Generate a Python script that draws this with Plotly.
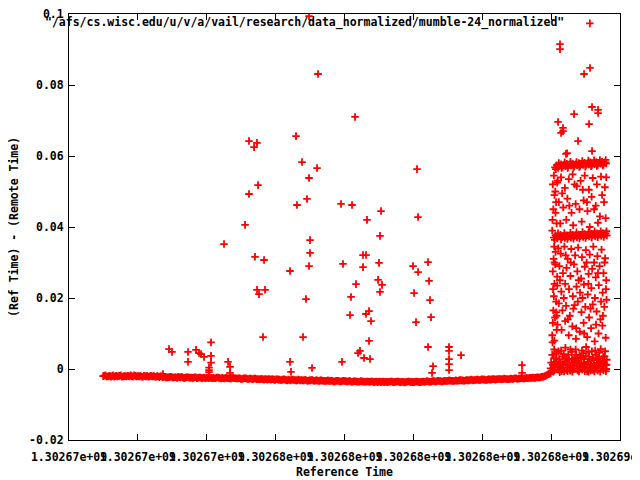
import plotly.graph_objects as go

T0 = 1302670000  # epoch base of the time axis (s)

# ---- dense baseline (offset s, ref-remote s) ----
baseline_t = [
    1240, 1320, 1400, 1480, 1560, 1640, 1720, 1800, 1880, 1960,
    2040, 2120, 2200, 2280, 2360, 2440, 2520, 2600, 2680, 2760,
    2840, 2920, 3000, 3080, 3160, 3240, 3320, 3400, 3480, 3560,
    3640, 3720, 3800, 3880, 3960, 4040, 4120, 4200, 4280, 4360,
    4440, 4520, 4600, 4680, 4760, 4840, 4920, 5000, 5080, 5160,
    5240, 5320, 5400, 5480, 5560, 5640, 5720, 5800, 5880, 5960,
    6040, 6120, 6200, 6280, 6360, 6440, 6520, 6600, 6680, 6760,
    6840, 6920, 7000, 7080, 7160, 7240, 7320, 7400, 7480, 7560,
    7640, 7720, 7800, 7880, 7960, 8040, 8120, 8200, 8280, 8360,
    8440, 8520, 8600, 8680, 8760, 8840, 8920, 9000, 9080, 9160,
    9240, 9320, 9400, 9480, 9560, 9640, 9720, 9800, 9880, 9960,
    10040, 10120, 10200, 10280, 10360, 10440, 10520, 10600, 10680, 10760,
    10840, 10920, 11000, 11080, 11160, 11240, 11320, 11400, 11480, 11560,
    11640, 11720, 11800, 11880, 11960, 12040, 12120, 12200, 12280, 12360,
    12440, 12520, 12600, 12680, 12760, 12840, 12920, 13000, 13080, 13160,
    13240, 13320, 13400, 13480, 13560, 13640, 13720, 13800, 13880, 13960,
    14040, 14120, 14200, 14280, 14360, 14440, 14520, 14600, 14680, 14760,
    14840, 14920, 15000, 15080, 15160, 15240, 15320, 15400, 15480, 15560,
    15640, 15720, 15800, 15880, 15960, 16040, 16120, 16200, 16280, 16360,
    16440, 16520, 16600, 16680, 16760, 16840, 16920, 17000, 17080, 17160,
    17240, 17320, 17400, 17480,
]
baseline_dy = [
    -0.0020, -0.0018, -0.0021, -0.0019, -0.0020, -0.0022, -0.0019, -0.0020, -0.0018, -0.0021,
    -0.0020, -0.0019, -0.0021, -0.0020, -0.0018, -0.0021, -0.0020, -0.0019, -0.0022, -0.0020,
    -0.0019, -0.0021, -0.0020, -0.0020, -0.0022, -0.0021, -0.0020, -0.0023, -0.0022, -0.0024,
    -0.0023, -0.0022, -0.0024, -0.0023, -0.0022, -0.0024, -0.0023, -0.0025, -0.0023, -0.0024,
    -0.0024, -0.0025, -0.0023, -0.0025, -0.0024, -0.0026, -0.0025, -0.0024, -0.0026, -0.0025,
    -0.0025, -0.0026, -0.0024, -0.0026, -0.0025, -0.0027, -0.0025, -0.0026, -0.0027, -0.0025,
    -0.0026, -0.0027, -0.0026, -0.0028, -0.0026, -0.0027, -0.0028, -0.0027, -0.0029, -0.0027,
    -0.0028, -0.0029, -0.0028, -0.0030, -0.0029, -0.0028, -0.0030, -0.0029, -0.0031, -0.0029,
    -0.0030, -0.0031, -0.0029, -0.0031, -0.0030, -0.0032, -0.0030, -0.0031, -0.0032, -0.0031,
    -0.0031, -0.0032, -0.0031, -0.0033, -0.0032, -0.0031, -0.0033, -0.0032, -0.0034, -0.0032,
    -0.0033, -0.0034, -0.0032, -0.0034, -0.0033, -0.0035, -0.0033, -0.0034, -0.0035, -0.0033,
    -0.0034, -0.0035, -0.0034, -0.0036, -0.0034, -0.0035, -0.0036, -0.0034, -0.0035, -0.0036,
    -0.0035, -0.0036, -0.0035, -0.0037, -0.0035, -0.0036, -0.0037, -0.0035, -0.0036, -0.0037,
    -0.0036, -0.0035, -0.0037, -0.0036, -0.0035, -0.0037, -0.0036, -0.0038, -0.0036, -0.0035,
    -0.0036, -0.0037, -0.0035, -0.0036, -0.0037, -0.0035, -0.0036, -0.0034, -0.0036, -0.0035,
    -0.0034, -0.0035, -0.0033, -0.0034, -0.0035, -0.0033, -0.0034, -0.0032, -0.0033, -0.0034,
    -0.0032, -0.0033, -0.0031, -0.0032, -0.0033, -0.0031, -0.0032, -0.0030, -0.0032, -0.0031,
    -0.0030, -0.0031, -0.0029, -0.0030, -0.0031, -0.0029, -0.0030, -0.0028, -0.0030, -0.0029,
    -0.0028, -0.0029, -0.0027, -0.0028, -0.0029, -0.0027, -0.0028, -0.0026, -0.0028, -0.0027,
    -0.0026, -0.0027, -0.0025, -0.0026, -0.0025, -0.0024, -0.0025, -0.0023, -0.0024, -0.0022,
    -0.0021, -0.0018, -0.0015, -0.0012,
]
# interleaved baseline samples (the run is sampled densely)
baseline2_t = [
    1280, 1360, 1440, 1520, 1600, 1680, 1760, 1840, 1920, 2000,
    2080, 2160, 2240, 2320, 2400, 2480, 2560, 2640, 2720, 2800,
    2880, 2960, 3040, 3120, 3200, 3280, 3360, 3440, 3520, 3600,
    3680, 3760, 3840, 3920, 4000, 4080, 4160, 4240, 4320, 4400,
    4480, 4560, 4640, 4720, 4800, 4880, 4960, 5040, 5120, 5200,
    5280, 5360, 5440, 5520, 5600, 5680, 5760, 5840, 5920, 6000,
    6080, 6160, 6240, 6320, 6400, 6480, 6560, 6640, 6720, 6800,
    6880, 6960, 7040, 7120, 7200, 7280, 7360, 7440, 7520, 7600,
    7680, 7760, 7840, 7920, 8000, 8080, 8160, 8240, 8320, 8400,
    8480, 8560, 8640, 8720, 8800, 8880, 8960, 9040, 9120, 9200,
    9280, 9360, 9440, 9520, 9600, 9680, 9760, 9840, 9920, 10000,
    10080, 10160, 10240, 10320, 10400, 10480, 10560, 10640, 10720, 10800,
    10880, 10960, 11040, 11120, 11200, 11280, 11360, 11440, 11520, 11600,
    11680, 11760, 11840, 11920, 12000, 12080, 12160, 12240, 12320, 12400,
    12480, 12560, 12640, 12720, 12800, 12880, 12960, 13040, 13120, 13200,
    13280, 13360, 13440, 13520, 13600, 13680, 13760, 13840, 13920, 14000,
    14080, 14160, 14240, 14320, 14400, 14480, 14560, 14640, 14720, 14800,
    14880, 14960, 15040, 15120, 15200, 15280, 15360, 15440, 15520, 15600,
    15680, 15760, 15840, 15920, 16000, 16080, 16160, 16240, 16320, 16400,
    16480, 16560, 16640, 16720, 16800, 16880, 16960, 17040, 17120, 17200,
    17280, 17360, 17440,
]
baseline2_dy = [
    -0.0019, -0.0021, -0.0020, -0.0022, -0.0018, -0.0020, -0.0021, -0.0019, -0.0022, -0.0020,
    -0.0021, -0.0020, -0.0018, -0.0022, -0.0019, -0.0020, -0.0021, -0.0022, -0.0019, -0.0021,
    -0.0022, -0.0019, -0.0021, -0.0022, -0.0020, -0.0023, -0.0021, -0.0022, -0.0024, -0.0023,
    -0.0022, -0.0024, -0.0023, -0.0025, -0.0023, -0.0022, -0.0025, -0.0024, -0.0023, -0.0025,
    -0.0025, -0.0023, -0.0026, -0.0024, -0.0025, -0.0024, -0.0026, -0.0025, -0.0024, -0.0026,
    -0.0026, -0.0024, -0.0025, -0.0027, -0.0026, -0.0025, -0.0026, -0.0027, -0.0025, -0.0026,
    -0.0027, -0.0026, -0.0028, -0.0027, -0.0026, -0.0028, -0.0027, -0.0028, -0.0027, -0.0029,
    -0.0029, -0.0028, -0.0029, -0.0028, -0.0030, -0.0029, -0.0029, -0.0030, -0.0029, -0.0030,
    -0.0031, -0.0030, -0.0030, -0.0032, -0.0031, -0.0030, -0.0031, -0.0032, -0.0030, -0.0032,
    -0.0032, -0.0031, -0.0033, -0.0032, -0.0031, -0.0033, -0.0032, -0.0033, -0.0032, -0.0033,
    -0.0034, -0.0033, -0.0034, -0.0033, -0.0035, -0.0034, -0.0033, -0.0035, -0.0034, -0.0034,
    -0.0035, -0.0034, -0.0036, -0.0035, -0.0035, -0.0036, -0.0035, -0.0035, -0.0036, -0.0035,
    -0.0036, -0.0035, -0.0036, -0.0036, -0.0037, -0.0035, -0.0036, -0.0037, -0.0036, -0.0036,
    -0.0035, -0.0037, -0.0036, -0.0035, -0.0037, -0.0036, -0.0037, -0.0036, -0.0035, -0.0037,
    -0.0037, -0.0036, -0.0036, -0.0037, -0.0036, -0.0036, -0.0035, -0.0035, -0.0036, -0.0034,
    -0.0035, -0.0034, -0.0034, -0.0035, -0.0034, -0.0034, -0.0033, -0.0033, -0.0034, -0.0033,
    -0.0033, -0.0032, -0.0032, -0.0033, -0.0032, -0.0032, -0.0031, -0.0031, -0.0031, -0.0030,
    -0.0031, -0.0030, -0.0030, -0.0031, -0.0030, -0.0030, -0.0029, -0.0029, -0.0029, -0.0028,
    -0.0029, -0.0028, -0.0028, -0.0029, -0.0028, -0.0028, -0.0027, -0.0027, -0.0027, -0.0026,
    -0.0027, -0.0026, -0.0026, -0.0025, -0.0025, -0.0025, -0.0024, -0.0024, -0.0023, -0.0022,
    -0.0020, -0.0017, -0.0014,
]

# ---- scattered outliers in the middle of the run (offset s, value) ----
middle_points = [
    (3630, 0.0056), (3739, 0.0048), (4320, 0.0048), (4320, 0.0020), (4610, 0.0054),
    (4719, 0.0045), (4792, 0.0042), (4900, 0.0034), (5155, 0.0075), (5155, 0.0037),
    (5155, 0.0018), (5082, 0.0004), (5082, -0.0003), (5082, -0.0009), (5772, 0.0020),
    (5844, 0.0006), (5844, -0.0011), (3412, -0.0014),
    (6534, 0.0642), (6824, 0.0637), (6716, 0.0625), (8240, 0.0656), (8458, 0.0583),
    (9002, 0.0566), (8712, 0.0538), (6861, 0.0518), (6534, 0.0493), (8639, 0.0479),
    (8276, 0.0462), (6389, 0.0406), (5627, 0.0352), (8748, 0.0363), (8748, 0.0327),
    (8712, 0.0290), (6752, 0.0316), (7079, 0.0307), (8022, 0.0276), (6824, 0.0223),
    (7115, 0.0223), (6897, 0.0211), (8603, 0.0197), (7042, 0.0090), (8494, 0.0090),
    (8022, 0.0020), (8058, -0.0008), (8821, 0.0003), (9910, 0.0020), (10491, 0.0045),
    (8712, 0.0994), (9039, 0.0831), (10382, 0.0710), (12632, 0.0563), (9874, 0.0465),
    (10273, 0.0462), (11326, 0.0445), (10817, 0.0420), (12669, 0.0428), (11289, 0.0375),
    (10672, 0.0321), (10781, 0.0321), (9946, 0.0296), (10672, 0.0287), (11253, 0.0299),
    (12487, 0.0290), (13032, 0.0301), (12669, 0.0273), (10418, 0.0239), (11217, 0.0251),
    (11362, 0.0237), (11289, 0.0217), (13068, 0.0248), (12524, 0.0214), (10237, 0.0203),
    (13104, 0.0194), (10200, 0.0152), (10781, 0.0155), (10890, 0.0163), (10963, 0.0135),
    (12596, 0.0132), (13141, 0.0146), (10890, 0.0079), (10563, 0.0051), (10709, 0.0031),
    (10926, 0.0028), (13032, 0.0062), (13794, 0.0062), (13794, 0.0051), (13794, 0.0028),
    (13794, 0.0014), (13794, -0.0003), (14230, 0.0039), (13213, 0.0008), (13177, -0.0011),
    (16444, 0.0011), (16444, -0.0011),
]

# ---- late cluster: two dense plateaus ----
upper_band = [
    (17640, 0.0568), (17700, 0.0574), (17750, 0.0566), (17800, 0.0572), (17860, 0.0577),
    (17910, 0.0569), (17960, 0.0575), (18020, 0.0571), (18070, 0.0578), (18120, 0.0570),
    (18180, 0.0576), (18230, 0.0573), (18280, 0.0579), (18340, 0.0571), (18390, 0.0577),
    (18440, 0.0574), (18500, 0.0580), (18550, 0.0572), (18600, 0.0578), (18660, 0.0575),
    (18710, 0.0581), (18760, 0.0573), (18820, 0.0579), (18870, 0.0576), (18920, 0.0582),
    (18980, 0.0574), (19030, 0.0580), (19080, 0.0577), (19140, 0.0583), (19190, 0.0575),
    (19240, 0.0581), (19300, 0.0578), (19350, 0.0584), (19400, 0.0576), (19460, 0.0582),
    (19500, 0.0579),
    (17670, 0.0563), (17780, 0.0580), (17880, 0.0566), (17990, 0.0582), (18100, 0.0566),
    (18200, 0.0584), (18310, 0.0568), (18420, 0.0583), (18520, 0.0569), (18630, 0.0586),
    (18740, 0.0570), (18850, 0.0587), (18950, 0.0571), (19060, 0.0588), (19160, 0.0572),
    (19270, 0.0589), (19380, 0.0573), (19480, 0.0589),
]
middle_band = [
    (17600, 0.0370), (17660, 0.0376), (17720, 0.0368), (17780, 0.0374), (17840, 0.0378),
    (17890, 0.0371), (17950, 0.0375), (18000, 0.0369), (18060, 0.0377), (18110, 0.0372),
    (18170, 0.0376), (18220, 0.0370), (18280, 0.0378), (18330, 0.0373), (18390, 0.0377),
    (18440, 0.0371), (18500, 0.0379), (18550, 0.0374), (18610, 0.0378), (18660, 0.0372),
    (18720, 0.0380), (18770, 0.0375), (18830, 0.0379), (18880, 0.0373), (18940, 0.0381),
    (18990, 0.0376), (19050, 0.0380), (19100, 0.0374), (19160, 0.0382), (19210, 0.0377),
    (19270, 0.0381), (19320, 0.0375), (19380, 0.0383), (19430, 0.0378), (19480, 0.0382),
    (19520, 0.0376),
    (17630, 0.0364), (17750, 0.0382), (17860, 0.0365), (17980, 0.0383), (18090, 0.0366),
    (18200, 0.0384), (18310, 0.0367), (18420, 0.0385), (18530, 0.0368), (18640, 0.0386),
    (18750, 0.0369), (18860, 0.0386), (18970, 0.0370), (19080, 0.0388), (19190, 0.0371),
    (19300, 0.0388), (19410, 0.0372), (19510, 0.0388),
]
lower_cluster = [
    (17480, 0.0002), (17520, -0.0006), (17560, 0.0012), (17600, 0.0030), (17620, -0.0004),
    (17660, 0.0020), (17700, 0.0045), (17720, 0.0008), (17760, -0.0002), (17790, 0.0028),
    (17830, 0.0015), (17860, 0.0052), (17880, -0.0006), (17920, 0.0035), (17950, 0.0004),
    (17990, 0.0022), (18020, 0.0060), (18050, -0.0003), (18090, 0.0012), (18120, 0.0040),
    (18150, 0.0026), (18190, -0.0005), (18220, 0.0008), (18250, 0.0048), (18290, 0.0018),
    (18320, 0.0001), (18360, 0.0033), (18390, 0.0055), (18420, 0.0010), (18460, -0.0004),
    (18490, 0.0024), (18530, 0.0038), (18560, 0.0006), (18600, 0.0016), (18630, -0.0002),
    (18670, 0.0044), (18700, 0.0028), (18740, 0.0009), (18770, 0.0062), (18810, -0.0006),
    (18840, 0.0020), (18880, 0.0035), (18910, 0.0003), (18950, 0.0013), (18980, 0.0050),
    (19020, -0.0003), (19050, 0.0025), (19090, 0.0008), (19120, 0.0040), (19160, 0.0017),
    (19190, -0.0005), (19230, 0.0030), (19260, 0.0011), (19300, 0.0056), (19330, 0.0002),
    (19370, 0.0022), (19400, -0.0004), (19440, 0.0036), (19470, 0.0012), (19500, 0.0000),
    (19520, 0.0026),
    (17500, 0.0018), (17580, -0.0008), (17640, 0.0006), (17740, 0.0014), (17810, -0.0009),
    (17900, 0.0010), (17970, -0.0007), (18070, 0.0030), (18170, 0.0004), (18270, -0.0008),
    (18340, 0.0020), (18440, 0.0030), (18510, -0.0007), (18580, 0.0032), (18650, 0.0005),
    (18720, -0.0006), (18790, 0.0012), (18860, -0.0008), (18930, 0.0024), (19000, 0.0007),
    (19070, -0.0007), (19140, 0.0004), (19210, 0.0018), (19280, -0.0008), (19350, 0.0008),
    (19420, 0.0016), (19490, -0.0006),
    (17540, 0.0040), (17610, 0.0055), (17680, 0.0030), (17770, 0.0050), (17840, 0.0003),
    (17960, 0.0042), (18030, 0.0018), (18100, -0.0006), (18200, 0.0055), (18260, 0.0028),
    (18350, 0.0009), (18410, 0.0040), (18520, 0.0015), (18620, 0.0052), (18690, 0.0018),
    (18760, 0.0036), (18850, 0.0048), (18940, -0.0004), (19010, 0.0030), (19100, 0.0052),
    (19170, 0.0026), (19250, 0.0046), (19320, 0.0016), (19390, 0.0034), (19460, 0.0050),
    (19510, 0.0012),
]
left_column = [
    (17540, 0.0095), (17560, 0.0130), (17580, 0.0165), (17600, 0.0205), (17620, 0.0240),
    (17560, 0.0275), (17590, 0.0310), (17610, 0.0345), (17550, 0.0420), (17580, 0.0450),
    (17620, 0.0490), (17560, 0.0520), (17600, 0.0545), (17700, 0.0110), (17680, 0.0190),
    (17720, 0.0260), (17660, 0.0330), (17700, 0.0410), (17680, 0.0470), (17740, 0.0530),
    (17550, 0.0075), (17640, 0.0145), (17570, 0.0225), (17650, 0.0295), (17540, 0.0390),
    (17660, 0.0440), (17700, 0.0150), (17620, 0.0080),
]
cluster_scatter = [
    (17760, 0.0340), (17850, 0.0325), (17980, 0.0345), (18100, 0.0310), (18230, 0.0338),
    (18370, 0.0320), (18480, 0.0342), (18620, 0.0315), (18760, 0.0335), (18900, 0.0322),
    (19030, 0.0345), (19180, 0.0318), (19330, 0.0336), (19460, 0.0312),
    (17800, 0.0290), (17930, 0.0270), (18060, 0.0285), (18200, 0.0262), (18330, 0.0295),
    (18450, 0.0275), (18590, 0.0255), (18720, 0.0288), (18860, 0.0268), (18990, 0.0282),
    (19120, 0.0258), (19260, 0.0290), (19400, 0.0270), (19500, 0.0250),
    (17720, 0.0235), (17870, 0.0218), (18010, 0.0240), (18150, 0.0225), (18290, 0.0205),
    (18420, 0.0232), (18550, 0.0215), (18690, 0.0238), (18830, 0.0210), (18960, 0.0228),
    (19090, 0.0200), (19230, 0.0236), (19370, 0.0215), (19490, 0.0225),
    (17780, 0.0185), (17910, 0.0165), (18040, 0.0178), (18180, 0.0150), (18310, 0.0170),
    (18470, 0.0190), (18600, 0.0160), (18740, 0.0175), (18880, 0.0145), (19010, 0.0182),
    (19150, 0.0162), (19290, 0.0140), (19430, 0.0175),
    (17730, 0.0125), (17880, 0.0110), (18010, 0.0135), (18140, 0.0095), (18270, 0.0120),
    (18400, 0.0085), (18540, 0.0105), (18680, 0.0130), (18810, 0.0090), (18950, 0.0115),
    (19080, 0.0078), (19220, 0.0100), (19360, 0.0122), (19480, 0.0088),
    (17620, 0.0300), (17690, 0.0160), (17820, 0.0250), (17960, 0.0200), (18030, 0.0320),
    (18110, 0.0140), (18210, 0.0300), (18350, 0.0180), (18410, 0.0115), (18500, 0.0250),
    (18640, 0.0200), (18700, 0.0100), (18790, 0.0300), (18850, 0.0240), (18930, 0.0170),
    (19060, 0.0300), (19130, 0.0125), (19200, 0.0270), (19310, 0.0190), (19380, 0.0150),
    (19440, 0.0300), (19510, 0.0195),
    (17720, 0.0525), (17860, 0.0540), (18000, 0.0510), (18140, 0.0535), (18280, 0.0548),
    (18430, 0.0515), (18570, 0.0530), (18720, 0.0545), (18870, 0.0505), (19010, 0.0538),
    (19160, 0.0520), (19310, 0.0542), (19450, 0.0512),
    (17780, 0.0470), (17940, 0.0455), (18090, 0.0480), (18240, 0.0440), (18390, 0.0465),
    (18530, 0.0450), (18680, 0.0475), (18820, 0.0445), (18970, 0.0485), (19120, 0.0460),
    (19270, 0.0430), (19420, 0.0470),
    (17830, 0.0410), (18050, 0.0420), (18300, 0.0405), (18610, 0.0415), (18900, 0.0400),
    (19200, 0.0412), (19480, 0.0425),
    (17650, 0.0500), (17900, 0.0495), (18160, 0.0460), (18350, 0.0520), (18650, 0.0505),
    (18800, 0.0470), (19060, 0.0450), (19350, 0.0490), (19500, 0.0540),
    (17751, 0.0696), (17932, 0.0679), (17860, 0.0665), (17932, 0.0670), (17823, 0.0915),
    (17823, 0.0901), (18912, 0.0848), (18695, 0.0831), (18985, 0.0738), (19203, 0.0730),
    (19203, 0.0721), (18332, 0.0718), (18876, 0.0690), (18477, 0.0642), (18041, 0.0606),
    (18078, 0.0608), (18985, 0.0614),
]

series_name = '"/afs/cs.wisc.edu/u/v/a/vail/research/data_normalized/mumble-24_normalized"'
x_tick_vals = [0, 2500, 5000, 7500, 10000, 12500, 15000, 17500, 20000]
x_tick_text = ["1.30267e+09", "1.30267e+09", "1.30267e+09", "1.30268e+09", "1.30268e+09",
               "1.30268e+09", "1.30268e+09", "1.30268e+09", "1.30269e+09"]
y_tick_vals = [-0.02, 0, 0.02, 0.04, 0.06, 0.08, 0.1]
y_tick_text = ["-0.02", "0", "0.02", "0.04", "0.06", "0.08", "0.1"]

pairs = (list(zip(baseline_t, baseline_dy)) + list(zip(baseline2_t, baseline2_dy))
         + middle_points + lower_cluster + left_column + cluster_scatter
         + middle_band + upper_band)
xs = [T0 + t for t, _ in pairs]
ys = [v for _, v in pairs]

FONT = "DejaVu Sans Mono"
RED = "#ff0000"
TXT = dict(family=FONT, size=11.5, color="black", weight="bold")

fig = go.Figure()
fig.add_trace(go.Scatter(
    x=xs, y=ys, mode="markers", name="",
    marker=dict(symbol="cross-thin", size=5.4, color=RED,
                line=dict(color=RED, width=1.8)),
    showlegend=True,
))

axis_common = dict(showline=True, linecolor="black", linewidth=1, mirror="ticks",
                   ticks="inside", ticklen=6, tickcolor="black", tickwidth=1,
                   showgrid=False, zeroline=False, automargin=False,
                   ticklabeloverflow="allow", tickfont=TXT)

fig.update_xaxes(range=[T0, T0 + 20000], tickvals=[T0 + v for v in x_tick_vals],
                 ticktext=x_tick_text, tickangle=0, ticklabelstandoff=6, **axis_common)
fig.update_yaxes(range=[-0.02, 0.1], tickvals=y_tick_vals, ticktext=y_tick_text,
                 ticklabelstandoff=2, **axis_common)

# the page body adds an 8 px offset, so the figure is sized to fit the window
fig.update_layout(
    width=632, height=472,
    margin=dict(l=61, r=20, t=6, b=40, autoexpand=False),
    paper_bgcolor="white", plot_bgcolor="white",
    font=dict(family=FONT, size=11.5, color="black"),
    showlegend=True,
    legend=dict(x=0.909, xanchor="left", y=1.012, yanchor="top",
                bgcolor="rgba(0,0,0,0)", itemwidth=30, borderwidth=0,
                font=dict(family=FONT, size=11.5, color="black")),
    annotations=[
        dict(text=series_name, xref="paper", yref="paper", x=0.902, y=0.981,
             xanchor="right", yanchor="middle", showarrow=False, font=TXT),
        dict(text="Reference Time", xref="paper", yref="paper", x=0.5, y=-0.075,
             xanchor="center", yanchor="middle", showarrow=False, font=TXT),
        dict(text="(Ref Time) - (Remote Time)", xref="paper", yref="paper",
             x=-0.1, y=0.5, xanchor="center", yanchor="middle", textangle=-90,
             showarrow=False, font=TXT),
    ],
)

fig.write_html("out.html")
